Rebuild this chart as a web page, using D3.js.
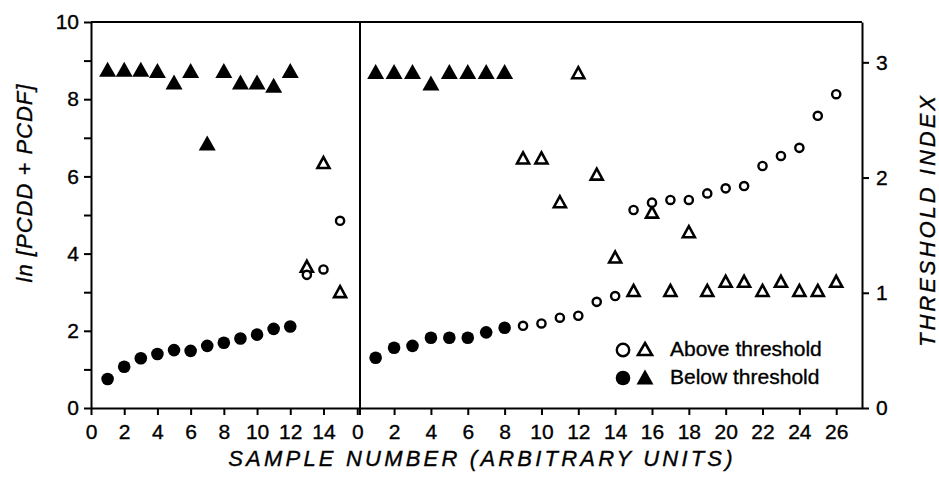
<!DOCTYPE html>
<html>
<head>
<meta charset="utf-8">
<script src="https://cdn.jsdelivr.net/npm/d3@7"></script>
<style>
  body { margin: 0; background: #fff; }
  svg text { font-family: "Liberation Sans", Arial, Helvetica, sans-serif; fill: #000; stroke: #000; stroke-width: 0.35px; }
</style>
</head>
<body>
<svg id="svg1" width="939" height="477"></svg>
<script>
// samples, left panel (1-12 below threshold, rest above)
const leftSamples = [1,2,3,4,5,6,7,8,9,10,11,12,13,14,15];
const leftLn = [0.75,1.07,1.29,1.40,1.50,1.48,1.61,1.69,1.80,1.90,2.05,2.11,3.45,3.59,4.85];
const leftIndex = [2.94,2.94,2.94,2.93,2.83,2.93,2.30,2.93,2.83,2.83,2.80,2.93,1.23,2.13,1.01];
const leftBelow = 12;

// samples, right panel (1-8 below threshold)
const rightSamples = d3.range(1, 27);
const rightLn = [1.30,1.56,1.61,1.82,1.82,1.82,1.96,2.08,2.13,2.19,2.34,2.39,2.75,2.90,
                 5.13,5.32,5.39,5.39,5.56,5.69,5.75,6.27,6.53,6.74,7.57,8.13];
const rightIndex = [2.92,2.92,2.92,2.82,2.92,2.92,2.92,2.92,2.17,2.17,1.79,2.91,2.03,1.31,
                    1.02,1.70,1.02,1.53,1.02,1.10,1.10,1.02,1.10,1.02,1.02,1.10];
const rightBelow = 8;

const leftXTicks = [0,2,4,6,8,10,12,14];
const rightXTicks = [0,2,4,6,8,10,12,14,16,18,20,22,24,26];
const lnTicks = [0,1,2,3,4,5,6,7,8,9,10];
const indexTicks = [0,1,2,3];
const legendLabels = ["Above threshold", "Below threshold"];

const top_ = 22, bottom = 408;
const xl0 = 91, xdiv = 360, xr1 = 862;

var xL = d3.scaleLinear().domain([0,16.2]).range([xl0, xdiv]);
var xR = d3.scaleLinear().domain([0.15,27.4]).range([xdiv, xr1]);
var yLn = d3.scaleLinear().domain([0,10]).range([bottom, top_]);
var yIdx = d3.scaleLinear().domain([0,3.35]).range([bottom, top_]);

var svg = d3.select('#svg1');

// triangle shape centred on its bounding box
function tri(w, h) {
    return 'M0,' + (-h/2) + 'L' + (w/2) + ',' + (h/2) + 'L' + (-w/2) + ',' + (h/2) + 'Z';
}

function styleAxis(g) {
    g.selectAll('path').attr('stroke', '#000').attr('stroke-width', 2);
    g.selectAll('line').attr('stroke', '#000').attr('stroke-width', 2);
    g.selectAll('text').attr('font-size', 21).attr('font-family', '"Liberation Sans", Arial, sans-serif');
}

// frame lines
svg.append('line').attr('x1', xl0).attr('x2', xr1).attr('y1', top_).attr('y2', top_)
    .attr('stroke', '#000').attr('stroke-width', 2);
svg.append('line').attr('x1', xdiv).attr('x2', xdiv).attr('y1', top_).attr('y2', bottom + 7)
    .attr('stroke', '#000').attr('stroke-width', 2);

// left y axis
svg.append('g')
    .attr('transform', 'translate(' + xl0 + ',0)')
    .call(d3.axisLeft(yLn).tickValues(lnTicks).tickSize(7).tickSizeOuter(0).tickPadding(5)
        .tickFormat(function(d) { return d % 2 === 0 ? d : ''; }))
    .call(styleAxis);

// right y axis
svg.append('g')
    .attr('transform', 'translate(' + xr1 + ',0)')
    .call(d3.axisRight(yIdx).tickValues(indexTicks).tickSize(7).tickSizeOuter(0).tickPadding(7)
        .tickFormat(function(d) { return d; }))
    .call(styleAxis);

// x axes
svg.append('g')
    .attr('transform', 'translate(0,' + bottom + ')')
    .call(d3.axisBottom(xL).tickValues(leftXTicks).tickSize(7).tickSizeOuter(0).tickPadding(9))
    .call(styleAxis);
svg.append('g')
    .attr('transform', 'translate(0,' + bottom + ')')
    .call(d3.axisBottom(xR).tickValues(rightXTicks).tickSize(7).tickSizeOuter(0).tickPadding(9))
    .call(styleAxis);

// plot one panel
function panel(x, samples, ln, idx, nBelow) {
    var g = svg.append('g');
    var rows = samples.map(function(s, i) { return {s: s, ln: ln[i], idx: idx[i], below: i < nBelow}; });

    g.selectAll('path.tri').data(rows).enter().append('path')
        .attr('class', 'tri')
        .attr('transform', function(d) { return 'translate(' + x(d.s) + ',' + yIdx(d.idx) + ')'; })
        .attr('d', function(d) { return d.below ? tri(17, 15) : tri(12, 11); })
        .attr('fill', function(d) { return d.below ? '#000' : '#fff'; })
        .attr('stroke', '#000')
        .attr('stroke-width', function(d) { return d.below ? 0 : 2.6; })
        .attr('stroke-linejoin', 'miter');

    g.selectAll('circle').data(rows).enter().append('circle')
        .attr('cx', function(d) { return x(d.s); })
        .attr('cy', function(d) { return yLn(d.ln); })
        .attr('r', function(d) { return d.below ? 6.3 : 4.1; })
        .attr('fill', function(d) { return d.below ? '#000' : '#fff'; })
        .attr('stroke', '#000')
        .attr('stroke-width', function(d) { return d.below ? 0 : 2.4; });
}

panel(xL, leftSamples, leftLn, leftIndex, leftBelow);
panel(xR, rightSamples, rightLn, rightIndex, rightBelow);

// legend
var leg = svg.append('g');
legendLabels.forEach(function(lab, i) {
    var cy = 350 + i * 28;
    var open = i === 0;
    leg.append('circle').attr('cx', 623).attr('cy', cy).attr('r', open ? 6.2 : 7.3)
        .attr('fill', open ? '#fff' : '#000').attr('stroke', '#000').attr('stroke-width', open ? 2.4 : 0);
    leg.append('path').attr('transform', 'translate(645,' + (cy - 1) + ')')
        .attr('d', open ? tri(14, 12) : tri(17, 15))
        .attr('fill', open ? '#fff' : '#000').attr('stroke', '#000').attr('stroke-width', open ? 2.6 : 0);
    leg.append('text').attr('x', 670).attr('y', cy + 6).attr('font-size', 21).text(lab);
});

// axis titles
svg.append('text')
    .attr('x', 482).attr('y', 466)
    .attr('text-anchor', 'middle')
    .attr('font-size', 22).attr('font-style', 'italic').attr('letter-spacing', 3.2)
    .text('SAMPLE NUMBER (ARBITRARY UNITS)');

svg.append('text')
    .attr('transform', 'translate(32,183) rotate(-90)')
    .attr('text-anchor', 'middle')
    .attr('font-size', 22).attr('font-style', 'italic').attr('letter-spacing', 1)
    .text('ln [PCDD + PCDF]');

svg.append('text')
    .attr('transform', 'translate(935,220) rotate(-90)')
    .attr('text-anchor', 'middle')
    .attr('font-size', 22).attr('font-style', 'italic').attr('letter-spacing', 3)
    .text('THRESHOLD INDEX');
</script>
</body>
</html>
